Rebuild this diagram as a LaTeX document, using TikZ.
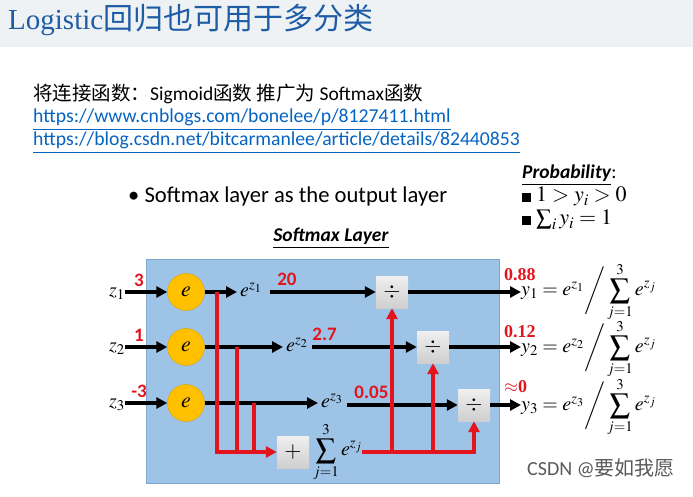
\documentclass[tikz,border=0pt]{standalone}
\usepackage{mathptmx}
\usepackage{fontspec}
\setmainfont{Carlito}
\newfontfamily\cjk{Noto Sans CJK SC}
\newfontfamily\serifti{Liberation Serif}
\usetikzlibrary{positioning,arrows.meta,calc}
\definecolor{layerblue}{HTML}{9DC3E6}
\definecolor{layeredge}{HTML}{7EA6CE}
\definecolor{eorange}{HTML}{FFC000}
\definecolor{eedge}{HTML}{D9A200}
\definecolor{hred}{HTML}{E3141C}
\definecolor{linkblue}{HTML}{0563C1}
\definecolor{titleblue}{HTML}{1F5CA6}
\definecolor{band}{HTML}{EEF2F4}
\tikzset{
  fs/.style    ={font=\fontsize{#1}{#1}\selectfont},
  expnode/.style={circle, draw=eedge, fill=eorange, minimum size=37pt, inner sep=0pt,
                 font=\fontsize{22}{22}\selectfont},
  opbox/.style ={draw=none, top color=gray!12, bottom color=gray!38, minimum size=32pt,
                 inner sep=0pt, font=\fontsize{22}{22}\selectfont},
  bl/.style    ={-{Triangle[length=11pt,width=11pt]}, line width=3.2pt, black},
  rl/.style    ={line width=3.2pt, hred},
  rla/.style   ={rl, -{Triangle[length=11pt,width=11pt]}},
  val/.style   ={text=hred, font=\fontsize{19}{19}\selectfont\bfseries, inner sep=0pt},
  outval/.style={text=hred, font=\fontsize{18}{18}\selectfont\serifti\bfseries, inner sep=0pt},
  mth/.style   ={font=\fontsize{20}{22}\selectfont, inner sep=0pt}
}
\begin{document}
\begin{tikzpicture}[x=1pt,y=-1pt]
  \useasboundingbox (0,0) rectangle (693,497);
  \fill[band] (0,0) rectangle (693,47);
  \node[anchor=base west, text=titleblue, font=\fontsize{29}{29}\selectfont\serifti, inner sep=0pt] (title) at (8,30) {Logistic{\cjk\fontsize{30}{30}\selectfont 回归也可用于多分类}};

  % intro lines
  \node[anchor=base west, fs=19.5, inner sep=0pt] (intro) at (33,101) {{\cjk 将连接函数：}Sigmoid{\cjk 函数 推广为 }Softmax{\cjk 函数}};
  \node[anchor=base west, fs=19.7, text=linkblue, inner sep=0pt] (linka) at (33,123) {\underline{https://www.cnblogs.com/bonelee/p/8127411.html}};
  \node[anchor=base west, fs=19.7, text=linkblue, inner sep=0pt] (linkb) at (33,146) {\underline{https://blog.csdn.net/bitcarmanlee/article/details/82440853}};

  \node[anchor=base west, fs=22.6, inner sep=0pt] (bullet) at (128,203) {\textbullet\ Softmax layer as the output layer};
  \node[anchor=base west, fs=19.5, inner sep=0pt] (prob) at (522,179) {\underline{\textbf{\textit{Probability}}}:};
  \node[anchor=base west, fs=22, inner sep=0pt] (pa) at (522,202) {\rule{9pt}{9pt}\ $1 > y_i > 0$};
  \node[anchor=base west, fs=22, inner sep=0pt] (pb) at (522,225) {\rule{9pt}{9pt}\ $\sum_i y_i = 1$};

  % softmax layer box
  \fill[layerblue, draw=layeredge] (146,259) rectangle (499,483);
  \node[fs=19.5, inner sep=0pt] (layer) at (331,238) {\underline{\textbf{\textit{Softmax Layer}}}};

  % inputs and exponentials
  \foreach \i/\yy/\ex/\v in {1/292/252/3, 2/347/298/1, 3/403/333/-3}{
    \node[mth] (z\i) at (117,\yy+2) {$z_{\i}$};
    \node[expnode] (e\i) at (186,\yy) {$e$};
    \node[mth, anchor=west] (ez\i) at (\ex-12,\yy-2) {$e^{z_{\i}}$};
    \node[val, anchor=south] (in\i) at (139,\yy-5) {\v};
    \draw[bl] (z\i.east |- e\i) -- (e\i.west);
    \draw[bl] (e\i.east) -- ([xshift=-3pt]ez\i.west |- e\i);
  }

  % division boxes
  \node[opbox] (d1) at (392,292) {$\div$};
  \node[opbox] (d2) at (433,347) {$\div$};
  \node[opbox] (d3) at (474,405) {$\div$};
  \draw[bl] (ez1.east |- d1) ++(8,0) -- (d1.west) node[val, pos=0.16, above=5pt] (v1) {20};
  \draw[bl] (ez2.east |- d2) ++(4,0) -- (d2.west) node[val, pos=0.12, above=5pt] (v2) {2.7};
  \draw[bl] (ez3.east |- d3) ++(4,0) -- (d3.west) node[val, pos=0.22, above=5pt] (v3) {0.05};

  % outputs
  \node[mth, anchor=west] (y1) at (521,292) {$y_1 = e^{z_1}\bigg/\displaystyle\sum_{j=1}^{3} e^{z_j}$};
  \node[mth, anchor=west] (y2) at (521,349) {$y_2 = e^{z_2}\bigg/\displaystyle\sum_{j=1}^{3} e^{z_j}$};
  \node[mth, anchor=west] (y3) at (521,407) {$y_3 = e^{z_3}\bigg/\displaystyle\sum_{j=1}^{3} e^{z_j}$};
  \draw[bl] (d1.east) -- (y1.west |- d1);
  \draw[bl] (d2.east) -- (y2.west |- d2);
  \draw[bl] (d3.east) -- (y3.west |- d3);
  \node[outval, anchor=south west] (o1) at (504,281) {0.88};
  \node[outval, anchor=south west] (o2) at (504,338) {0.12};
  \node[outval, anchor=south west] (o3) at (504,393) {$\approx$0};

  % summation
  \node[opbox] (plus) at (293,452) {$+$};
  \node[mth, anchor=west] (sum) at (313,452) {$\displaystyle\sum_{j=1}^{3} e^{z_j}$};
  \coordinate (t1) at (217,292);
  \coordinate (t2) at (237,347);
  \coordinate (t3) at (254,403);
  \draw[rl] (t1) |- (t3 |- plus);
  \draw[rl] (t2) -- (t2 |- plus);
  \draw[rla] (t3) |- (plus.west);
  \draw[rla] (sum.east |- plus) -| (d3.south);
  \draw[rla] (d1.south |- plus) -- (d1.south);
  \draw[rla] (d2.south |- plus) -- (d2.south);

  \node[anchor=base west, text=gray!70!black, fs=20, inner sep=0pt] (mark) at (527,475) {CSDN @{\cjk 要如我愿}};
\end{tikzpicture}
\end{document}
